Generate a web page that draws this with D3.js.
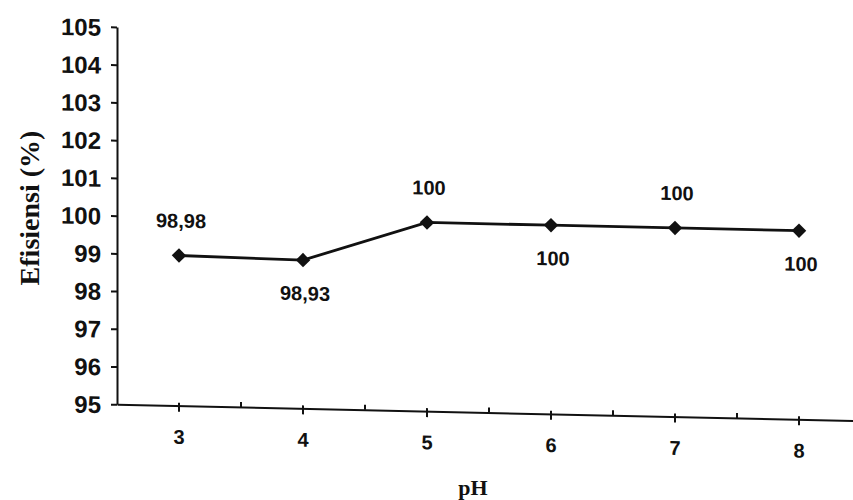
<!DOCTYPE html>
<html>
<head>
<meta charset="utf-8">
<script src="https://cdn.jsdelivr.net/npm/d3@7"></script>
<style>
  html, body { margin: 0; padding: 0; background: #ffffff; }
  svg { display: block; }
</style>
</head>
<body>
<svg id="chart" width="853" height="500"></svg>
<script>
// ---- data ----
const categories = ["3", "4", "5", "6", "7", "8"];
const efficiency = [98.98, 98.93, 100, 100, 100, 100];
const valueLabels = ["98,98", "98,93", "100", "100", "100", "100"];
const labelSide = ["above", "below", "above", "below", "above", "below"];
const yTicks = [95, 96, 97, 98, 99, 100, 101, 102, 103, 104, 105];
const yTitle = "Efisiensi (%)";
const xTitle = "pH";

// ---- layout ----
const svg = d3.select("#chart");
const plotLeft = 117, plotRight = 861, plotTop = 27, plotBottom = 404.3;
const skew = 0.022; // slight tilt of the scanned page

const x = d3.scaleBand().domain(categories).range([plotLeft, plotRight]).paddingInner(0).paddingOuter(0);
const y = d3.scaleLinear().domain([95, 105]).range([plotBottom, plotTop]);

const g = svg.append("g")
  .attr("transform", `matrix(1,${skew},0,1,0,${-skew * plotLeft})`);

const sans = "'Liberation Sans', Arial, Helvetica, sans-serif";
const serif = "'Liberation Serif', 'Times New Roman', Times, serif";

// y axis
const yAxis = g.append("g")
  .attr("transform", `translate(${plotLeft},0)`)
  .call(d3.axisLeft(y).tickValues(yTicks).tickSize(6).tickSizeOuter(0).tickPadding(10).tickFormat(d3.format("d")));
yAxis.select(".domain").attr("stroke", "#111").attr("stroke-width", 2);
yAxis.selectAll(".tick line").attr("stroke", "#111").attr("stroke-width", 2);
yAxis.selectAll(".tick text")
  .attr("font-family", sans).attr("font-weight", "bold").attr("font-size", 24)
  .attr("fill", "#111").attr("dy", "0.36em");

// x axis
const xAxis = g.append("g")
  .attr("transform", `translate(0,${plotBottom})`)
  .call(d3.axisBottom(x).tickSize(6).tickSizeOuter(0).tickPadding(18));
xAxis.select(".domain").attr("stroke", "#111").attr("stroke-width", 2);
xAxis.selectAll(".tick line").attr("stroke", "#111").attr("stroke-width", 2).attr("y1", -3);
xAxis.selectAll(".tick text")
  .attr("font-family", sans).attr("font-weight", "bold").attr("font-size", 20).attr("fill", "#111");

// minor ticks at category boundaries
const bounds = categories.slice(1).map(c => x(c)).concat([x(categories[categories.length - 1]) + x.bandwidth()]);
xAxis.selectAll(".minor").data(bounds).enter().append("line")
  .attr("class", "minor")
  .attr("x1", d => d).attr("x2", d => d)
  .attr("y1", -5).attr("y2", 0)
  .attr("stroke", "#111").attr("stroke-width", 2);

// series
const pts = categories.map((c, i) => ({ c, v: efficiency[i], lab: valueLabels[i], side: labelSide[i] }));
const cx = d => x(d.c) + x.bandwidth() / 2;

g.append("path")
  .datum(pts)
  .attr("fill", "none").attr("stroke", "#111").attr("stroke-width", 2.8)
  .attr("d", d3.line().x(cx).y(d => y(d.v)));

const diamond = d3.symbol().type(d3.symbolSquare).size(105);
g.selectAll(".mk").data(pts).enter().append("path")
  .attr("class", "mk")
  .attr("d", diamond)
  .attr("fill", "#111")
  .attr("transform", d => `translate(${cx(d)},${y(d.v)}) rotate(45)`);

g.selectAll(".vl").data(pts).enter().append("text")
  .attr("class", "vl")
  .attr("x", d => cx(d) + 2)
  .attr("y", d => y(d.v) + (d.side === "above" ? -35 : 33))
  .attr("dy", "0.36em")
  .attr("text-anchor", "middle")
  .attr("font-family", sans).attr("font-weight", "bold").attr("font-size", 20)
  .attr("fill", "#111")
  .text(d => d.lab);

// axis titles
svg.append("text")
  .attr("x", 473).attr("y", 487).attr("dy", "0.36em")
  .attr("text-anchor", "middle")
  .attr("font-family", serif).attr("font-weight", "bold").attr("font-size", 22)
  .attr("fill", "#111")
  .text(xTitle);

svg.append("text")
  .attr("transform", "translate(29,208) rotate(-90)")
  .attr("dy", "0.36em")
  .attr("text-anchor", "middle")
  .attr("font-family", serif).attr("font-weight", "bold").attr("font-size", 28)
  .attr("fill", "#111")
  .text(yTitle);
</script>
</body>
</html>
